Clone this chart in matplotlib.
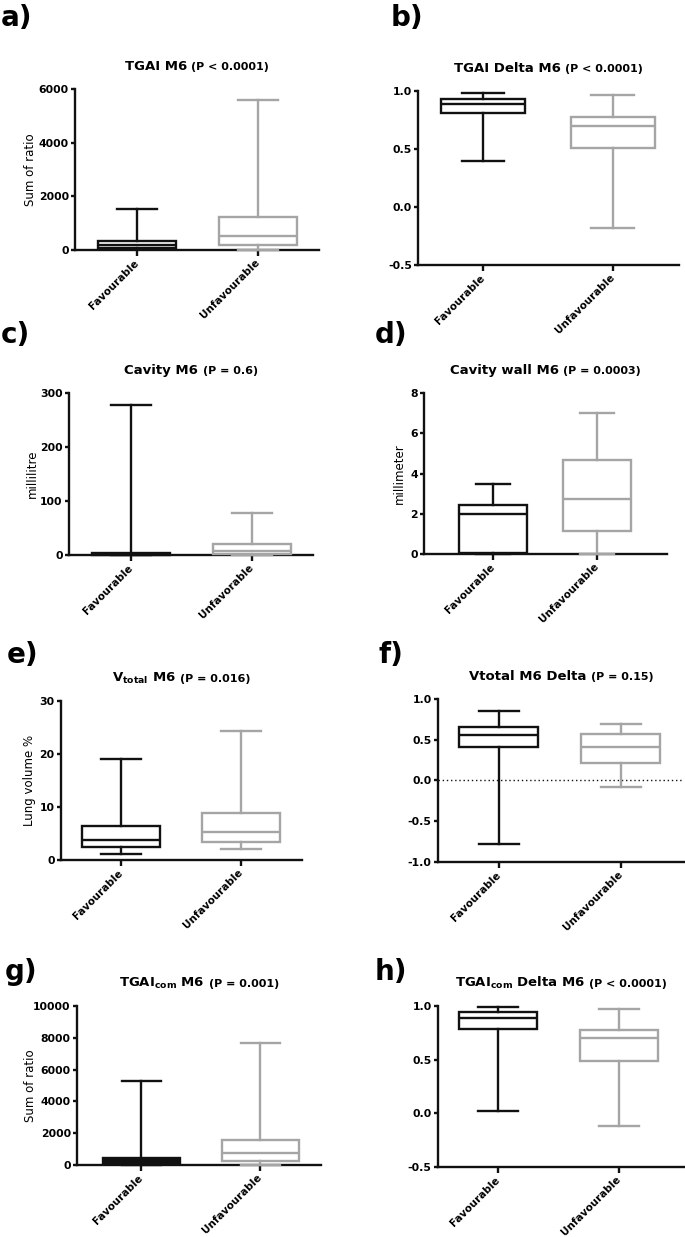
import matplotlib
matplotlib.use("Agg")
import matplotlib.pyplot as plt

plt.rcParams['font.family'] = ['DejaVu Sans']
plt.rcParams['mathtext.fontset'] = 'dejavusans'

# ---------------- data ----------------
cats = ["Favourable", "Unfavourable"]
cats_c = ["Favourable", "Unfavorable"]
stat_keys = ["whislo", "q1", "med", "q3", "whishi"]

a_fav = [20, 90, 200, 320, 1520]
a_unf = [10, 190, 540, 1240, 5600]
b_fav = [0.40, 0.81, 0.885, 0.935, 0.985]
b_unf = [-0.18, 0.505, 0.70, 0.78, 0.965]
c_fav = [0, 0.5, 1.5, 3, 278]
c_unf = [0.5, 2.6, 7.5, 21, 78]
d_fav = [0, 0.07, 1.98, 2.42, 3.48]
d_unf = [0, 1.15, 2.74, 4.67, 7.0]
e_fav = [1.1, 2.5, 3.8, 6.4, 19.0]
e_unf = [2.0, 3.4, 5.2, 8.9, 24.4]
f_fav = [-0.78, 0.41, 0.56, 0.655, 0.855]
f_unf = [-0.085, 0.21, 0.415, 0.57, 0.69]
g_fav = [0, 60, 250, 450, 5300]
g_unf = [30, 270, 775, 1570, 7650]
h_fav = [0.02, 0.79, 0.89, 0.947, 0.99]
h_unf = [-0.115, 0.49, 0.70, 0.78, 0.97]

ticks_thousands6 = [0, 2000, 4000, 6000]
ticks_thousands10 = [0, 2000, 4000, 6000, 8000, 10000]
ticks_delta = [-0.5, 0.0, 0.5, 1.0]
ticks_cavity = [0, 100, 200, 300]
ticks_wall = [0, 2, 4, 6, 8]
ticks_lung = [0, 10, 20, 30]
ticks_vdelta = [-1.0, -0.5, 0.0, 0.5, 1.0]

titles_main = ["TGAI M6", "TGAI Delta M6", "Cavity M6", "Cavity wall M6",
               r"$\mathbf{V}_{\mathbf{total}}$ M6", "Vtotal M6 Delta",
               r"$\mathbf{TGAI}_{\mathbf{com}}$ M6", r"$\mathbf{TGAI}_{\mathbf{com}}$ Delta M6"]
titles_p = ["(P < 0.0001)", "(P < 0.0001)", "(P = 0.6)", "(P = 0.0003)",
            "(P = 0.016)", "(P = 0.15)", "(P = 0.001)", "(P < 0.0001)"]
ylabels = ["Sum of ratio", None, "millilitre", "millimeter",
           "Lung volume %", None, "Sum of ratio", None]
panel_letters = ["a)", "b)", "c)", "d)", "e)", "f)", "g)", "h)"]

# ---------------- layout ----------------
W, H = 685, 1237
BLACK = "#111111"
GRAY = "#a5a5a5"
LW = 1.7

fig = plt.figure(figsize=(W / 100, H / 100), dpi=100)
fig.patch.set_facecolor("white")

# left, right, top, bottom (px), xmin, xmax
geoms = [
    (75, 319, 89, 250, -0.512, 1.504),
    (418, 679, 91, 265, -0.50, 1.51),
    (69, 313, 393, 555, -0.512, 1.504),
    (424, 667, 393, 554, -0.66, 1.67),
    (61, 302, 701, 860, -0.50, 1.51),
    (438, 684, 699, 862, -0.50, 1.52),
    (77, 321, 1006, 1165, -0.54, 1.51),
    (438, 684, 1006, 1167, -0.50, 1.54),
]
panel_data = [(a_fav, a_unf), (b_fav, b_unf), (c_fav, c_unf), (d_fav, d_unf),
              (e_fav, e_unf), (f_fav, f_unf), (g_fav, g_unf), (h_fav, h_unf)]
panel_ticks = [ticks_thousands6, ticks_delta, ticks_cavity, ticks_wall,
               ticks_lung, ticks_vdelta, ticks_thousands10, ticks_delta]
panel_fmt = ["{:.0f}", "{:.1f}", "{:.0f}", "{:.0f}", "{:.0f}", "{:.1f}", "{:.0f}", "{:.1f}"]
panel_cats = [cats, cats, cats_c, cats, cats, cats, cats, cats]
# favourable box fill (the very thin box in g renders solid black in the reference)
fav_fill = ["none", "none", "none", "none", "none", "none", BLACK, "none"]
letter_pos = [(1, 26), (391, 26), (1, 343), (375, 343), (7, 663), (379, 663), (5, 980), (375, 980)]
ylabel_x = [31, None, 32, 399, 30, None, 30, None]

title_parts = []
for i, (l, r, t, b, x0, x1) in enumerate(geoms):
    ax = fig.add_axes([l / W, 1 - b / H, (r - l) / W, (b - t) / H])
    fav, unf = panel_data[i]
    stats = []
    for vals, cat in zip((fav, unf), panel_cats[i]):
        d = dict(zip(stat_keys, vals))
        d["label"] = cat
        stats.append(d)
    art = ax.bxp(stats, positions=[0, 1], widths=0.65, capwidths=0.33,
                 showfliers=False, manage_ticks=False, patch_artist=True)
    for j, col in enumerate((BLACK, GRAY)):
        box = art["boxes"][j]
        box.set_edgecolor(col)
        box.set_facecolor(fav_fill[i] if j == 0 else "none")
        box.set_linewidth(LW)
        box.set_clip_on(False)
        box.set_zorder(3)
        items = [art["medians"][j]] + art["whiskers"][2 * j:2 * j + 2] + art["caps"][2 * j:2 * j + 2]
        for it in items:
            it.set_color(col)
            it.set_linewidth(LW)
            it.set_clip_on(False)
            it.set_zorder(3)
    tk = panel_ticks[i]
    ax.set_ylim(tk[0], tk[-1])
    ax.set_xlim(x0, x1)
    ax.set_yticks(tk)
    ax.set_yticklabels([panel_fmt[i].format(v) for v in tk], fontsize=7.8, fontweight="bold")
    ax.set_xticks([0, 1])
    ax.set_xticklabels(panel_cats[i], rotation=45, ha="right", va="center",
                       rotation_mode="anchor", fontsize=7.5, fontweight="bold")
    for s in ("top", "right"):
        ax.spines[s].set_visible(False)
    for s in ("left", "bottom"):
        ax.spines[s].set_linewidth(LW)
        ax.spines[s].set_color(BLACK)
    ax.tick_params(axis="y", length=3.0, width=LW, pad=1.5, color=BLACK)
    ax.tick_params(axis="x", length=4.0, width=LW, pad=4, color=BLACK)
    ax.set_facecolor("none")
    if i == 5:
        ax.axhline(0, color=BLACK, lw=1.0, ls=(0, (1, 2)), zorder=1)

    if ylabels[i]:
        fig.text(ylabel_x[i] / W, 1 - ((t + b) / 2) / H, ylabels[i], rotation=90,
                 ha="center", va="center", fontsize=8.5)
    lx, ly = letter_pos[i]
    fig.text(lx / W, 1 - ly / H, panel_letters[i], fontsize=20, fontweight="bold",
             ha="left", va="baseline")
    ty = 1 - (t - 19) / H
    t1 = fig.text(0, ty, titles_main[i], fontsize=9.5, fontweight="bold", ha="left", va="baseline")
    t2 = fig.text(0, ty, titles_p[i], fontsize=8, fontweight="bold", ha="left", va="baseline")
    title_parts.append((t1, t2, (l + r) / 2))

fig.canvas.draw()
renderer = fig.canvas.get_renderer()
GAP = 4.5
for t1, t2, xc in title_parts:
    w1 = t1.get_window_extent(renderer).width
    w2 = t2.get_window_extent(renderer).width
    xs = xc - (w1 + GAP + w2) / 2
    t1.set_x(xs / W)
    t2.set_x((xs + w1 + GAP) / W)

fig.savefig("out.png", dpi=100, facecolor="white")
